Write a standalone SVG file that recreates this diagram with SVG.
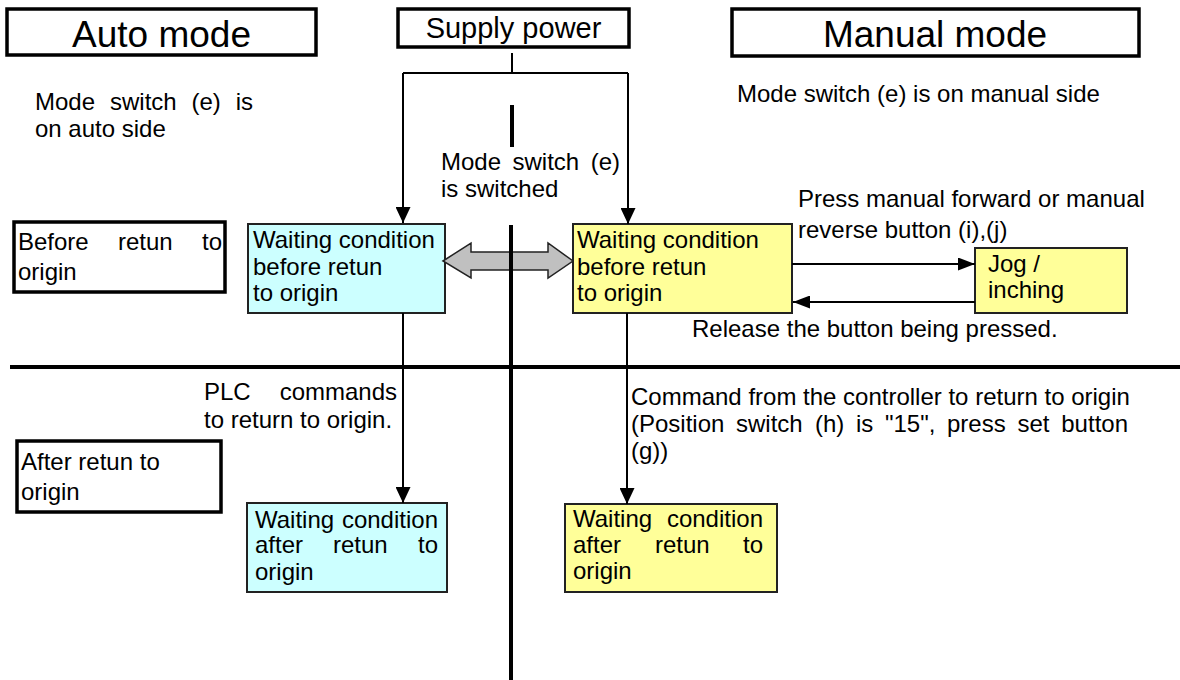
<svg xmlns="http://www.w3.org/2000/svg" width="1180" height="680" viewBox="0 0 1180 680">
<defs>
<style>
text{font-family:"Liberation Sans",Arial,sans-serif;font-size:24px;fill:#000}
.title{font-size:37px;text-anchor:middle}
.sup{font-size:29px;text-anchor:middle}
.tbox{fill:#fff;stroke:#000;stroke-width:3.5}
.lbox{fill:#fff;stroke:#000;stroke-width:3.5}
.cyan{fill:#ccffff;stroke:#222;stroke-width:2}
.yel{fill:#ffff99;stroke:#222;stroke-width:2}
.conn{fill:none;stroke:#000;stroke-width:2}
.div{fill:none;stroke:#000;stroke-width:4}
.end{text-anchor:end}
</style>
<marker id="ah" markerUnits="userSpaceOnUse" markerWidth="16" markerHeight="15" refX="16" refY="7.5" orient="auto">
<path d="M0,0 L16,7.5 L0,15 z" fill="#000"/>
</marker>
<marker id="ahs" markerUnits="userSpaceOnUse" markerWidth="17" markerHeight="13" refX="17" refY="6.5" orient="auto">
<path d="M0,0 L17,6.5 L0,13 z" fill="#000"/>
</marker>
</defs>
<rect width="1180" height="680" fill="#fff"/>

<g id="auto-mode">
<rect class="tbox" x="7" y="9" width="309" height="46"/>
<text class="title" x="161.5" y="47">Auto mode</text>
</g>
<g id="supply-power">
<rect class="tbox" x="398" y="9" width="231" height="38"/>
<text class="sup" x="513.5" y="38">Supply power</text>
</g>
<g id="manual-mode">
<rect class="tbox" x="732" y="9" width="407" height="47"/>
<text class="title" x="935" y="47">Manual mode</text>
</g>

<g id="note-auto">
<text y="110"><tspan x="35">Mode</tspan><tspan x="110">switch</tspan><tspan x="191.5">(e)</tspan><tspan x="253" text-anchor="end">is</tspan></text>
<text x="35" y="137">on auto side</text>
</g>
<g id="note-manual">
<text x="737" y="102">Mode switch (e) is on manual side</text>
</g>
<g id="note-switch">
<text y="170"><tspan x="441">Mode</tspan><tspan x="512.5">switch</tspan><tspan x="620" text-anchor="end">(e)</tspan></text>
<text x="441" y="197">is switched</text>
</g>

<g id="before-label">
<rect class="lbox" x="14" y="222" width="211" height="70"/>
<text y="250"><tspan x="18">Before</tspan><tspan x="118">retun</tspan><tspan x="222" text-anchor="end">to</tspan></text>
<text x="18" y="280">origin</text>
</g>
<g id="after-label">
<rect class="lbox" x="17" y="441" width="204" height="71"/>
<text x="21" y="470">After retun to</text>
<text x="21" y="500">origin</text>
</g>

<g id="auto-before">
<rect class="cyan" x="248" y="224" width="197" height="89"/>
<text x="253" y="248">Waiting condition</text>
<text x="253" y="275">before retun</text>
<text x="253" y="301">to origin</text>
</g>
<g id="manual-before">
<rect class="yel" x="573" y="224" width="219" height="89"/>
<text x="577" y="248">Waiting condition</text>
<text x="577" y="275">before retun</text>
<text x="577" y="301">to origin</text>
</g>
<g id="jog">
<rect class="yel" x="975" y="248" width="152" height="65"/>
<text x="988" y="272">Jog /</text>
<text x="988" y="298">inching</text>
</g>
<g id="auto-after">
<rect class="cyan" x="247" y="503" width="200" height="89"/>
<text y="528"><tspan x="255">Waiting</tspan><tspan x="438" text-anchor="end">condition</tspan></text>
<text y="553"><tspan x="255">after</tspan><tspan x="333">retun</tspan><tspan x="438" text-anchor="end">to</tspan></text>
<text x="255" y="580">origin</text>
</g>
<g id="manual-after">
<rect class="yel" x="565" y="504" width="212" height="88"/>
<text y="527"><tspan x="573">Waiting</tspan><tspan x="763" text-anchor="end">condition</tspan></text>
<text y="553"><tspan x="573">after</tspan><tspan x="655">retun</tspan><tspan x="763" text-anchor="end">to</tspan></text>
<text x="573" y="579">origin</text>
</g>

<g id="connectors">
<path class="conn" d="M512,53 V73 M403,73 H628"/>
<path class="conn" d="M403,73 V223" marker-end="url(#ah)"/>
<path class="conn" d="M628,73 V224" marker-end="url(#ah)"/>
<polygon points="443,261 471,243 471,252 548,252 548,243 573,261 548,278 548,270 471,270 471,278" fill="#c0c0c0" stroke="#222" stroke-width="1.5"/>
<path class="conn" d="M792,264 H975" marker-end="url(#ahs)"/>
<path class="conn" d="M975,302 H793" marker-end="url(#ahs)"/>
<path class="conn" d="M403,313 V503" marker-end="url(#ah)"/>
<path class="conn" d="M627,313 V504" marker-end="url(#ah)"/>
<text x="798" y="207">Press manual forward or manual</text>
<text x="798" y="238">reverse button (i),(j)</text>
<text x="692" y="337">Release the button being pressed.</text>
<text y="400"><tspan x="204">PLC</tspan><tspan x="397" text-anchor="end">commands</tspan></text>
<text x="204" y="428">to return to origin.</text>
<text x="631" y="405">Command from the controller to return to origin</text>
<text y="432"><tspan x="631">(Position</tspan><tspan x="736">switch</tspan><tspan x="815">(h)</tspan><tspan x="856">is</tspan><tspan x="885">"15",</tspan><tspan x="947">press</tspan><tspan x="1017.5">set</tspan><tspan x="1128" text-anchor="end">button</tspan></text>
<text x="631" y="459">(g))</text>
</g>

<g id="dividers">
<path class="div" d="M512,105 V147"/>
<path class="div" d="M511,225 V680"/>
<path class="div" d="M10,367 H1180"/>
</g>
</svg>
